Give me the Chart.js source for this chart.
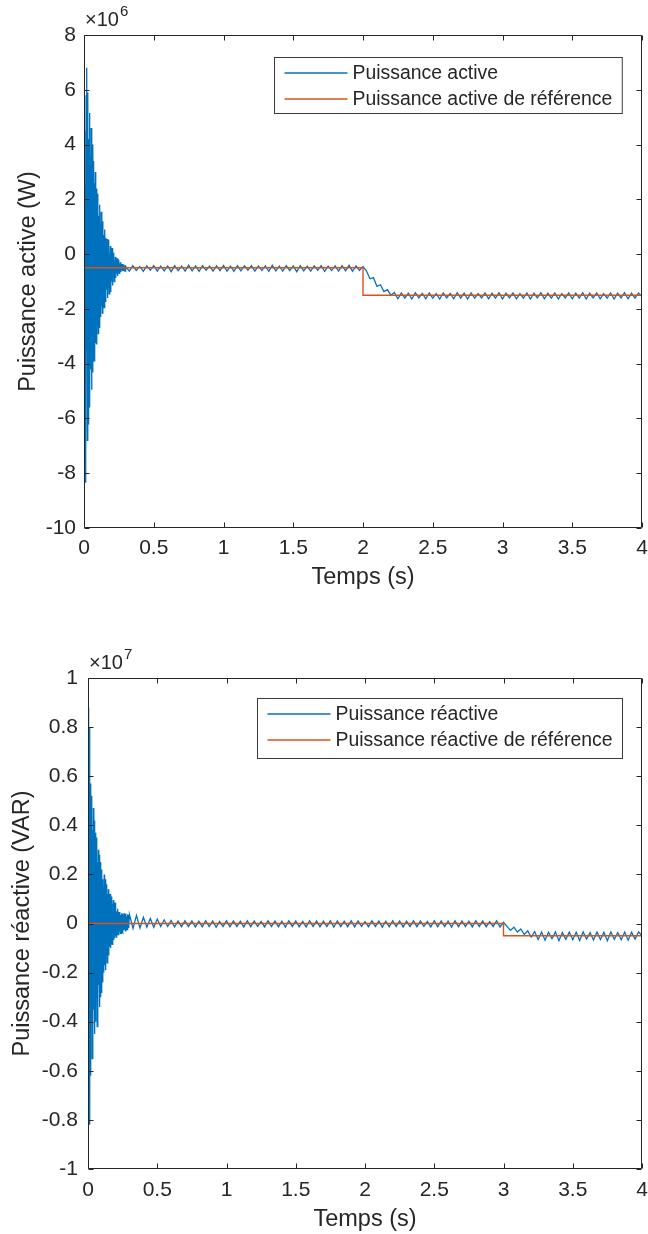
<!DOCTYPE html>
<html>
<head>
<meta charset="utf-8">
<script src="https://cdn.jsdelivr.net/npm/chart.js@4.4.1/dist/chart.umd.min.js"></script>
<style>
  html, body { margin: 0; padding: 0; background: #ffffff; }
  #wrap { position: relative; width: 648px; height: 1234px; }
  canvas { position: absolute; left: 0; }
</style>
</head>
<body>
<div id="wrap">
  <canvas id="c1" width="648" height="600" style="top:0px;width:648px;height:600px"></canvas>
  <canvas id="c2" width="648" height="634" style="top:600px;width:648px;height:634px"></canvas>
</div>
<script>
// ---------------- DATA ----------------
const xTicks = [0, 0.5, 1, 1.5, 2, 2.5, 3, 3.5, 4];
const pTicks = [-10, -8, -6, -4, -2, 0, 2, 4, 6, 8];
const qTicks = [-1, -0.8, -0.6, -0.4, -0.2, 0, 0.2, 0.4, 0.6, 0.8, 1];

// Sampling instants of the start-up transient (shared by both plots)
const transTime = [
0,0.003,0.006,0.009,0.012,0.015,0.018,0.021,0.024,0.027,
0.03,0.033,0.036,0.039,0.042,0.045,0.048,0.051,0.054,0.057,
0.06,0.063,0.066,0.069,0.072,0.075,0.078,0.081,0.084,0.087,
0.09,0.093,0.096,0.099,0.102,0.105,0.108,0.111,0.114,0.117,
0.12,0.123,0.126,0.129,0.132,0.135,0.138,0.141,0.144,0.147,
0.15,0.153,0.156,0.159,0.162,0.165,0.168,0.171,0.174,0.177,
0.18,0.183,0.186,0.189,0.192,0.195,0.198,0.201,0.204,0.207,
0.21,0.213,0.216,0.219,0.222,0.225,0.228,0.231,0.234,0.237,
0.24,0.243,0.246,0.249,0.252,0.255,0.258,0.261,0.264,0.267,
0.27,0.273,0.276,0.279,0.282,0.285,0.288,0.291,0.294,0.297];

// Active power (x10^6 W) during the transient
const pTransVal = [
0,4.5,-5.2,2.5,-8.35,5.8,-3.5,6.8,-6.8,5.9,
-6.2,4.2,-4.5,5.15,-5.6,3.6,-4.2,4.6,-4.95,3.9,
-4.3,4,-3.5,3.4,-3.9,2.6,-3,3,-3.25,2.4,
-3.3,1.9,-2.6,2.2,-2.9,1.4,-2.2,1.8,-2.7,1.1,
-2.3,1.55,-1.9,1,-2.15,1.2,-1.7,0.7,-1.95,0.9,
-1.5,0.6,-1.75,0.3,-1.3,0.55,-1.6,0.1,-1.2,0.52,
-1.45,0,-1.1,0.3,-1.38,-0.1,-1,0.22,-1.15,-0.2,
-0.85,0.05,-1,-0.25,-0.8,-0.1,-0.87,-0.3,-0.72,-0.15,
-0.8,-0.32,-0.66,-0.2,-0.7,-0.35,-0.62,-0.3,-0.65,-0.38,
-0.6,-0.36,-0.62,-0.4,-0.58,-0.38,-0.6,-0.42,-0.62,-0.41];

// Reactive power (x10^7 VAR) during the transient
const qTransVal = [
0,0.88,-0.5,0.8,-0.82,0.45,-0.62,0.57,-0.4,0.52,
-0.55,0.38,-0.49,0.47,-0.35,0.42,-0.45,0.3,-0.4,0.37,
-0.3,0.35,-0.42,0.25,-0.38,0.3,-0.25,0.28,-0.34,0.25,
-0.3,0.2,-0.28,0.22,-0.2,0.18,-0.24,0.15,-0.2,0.2,
-0.17,0.14,-0.19,0.18,-0.13,0.16,-0.16,0.12,-0.12,0.14,
-0.13,0.1,-0.095,0.12,-0.1,0.09,-0.08,0.11,-0.085,0.08,
-0.07,0.096,-0.067,0.07,-0.06,0.085,-0.05,0.06,-0.055,0.05,
-0.045,0.06,-0.04,0.047,-0.048,0.04,-0.035,0.047,-0.04,0.035,
-0.04,0.042,-0.03,0.04,-0.035,0.03,-0.028,0.042,-0.025,0.035,
-0.03,0.04,-0.022,0.03,-0.025,0.038,-0.02,0.036,-0.018,0.02];

// Sampling instants after the transient (shared by both plots)
const steadyTime = [
0.3,0.325,0.35,0.375,0.4,0.425,0.45,0.475,0.5,0.525,
0.55,0.575,0.6,0.625,0.65,0.675,0.7,0.725,0.75,0.775,
0.8,0.825,0.85,0.875,0.9,0.925,0.95,0.975,1,1.025,
1.05,1.075,1.1,1.125,1.15,1.175,1.2,1.225,1.25,1.275,
1.3,1.325,1.35,1.375,1.4,1.425,1.45,1.475,1.5,1.525,
1.55,1.575,1.6,1.625,1.65,1.675,1.7,1.725,1.75,1.775,
1.8,1.825,1.85,1.875,1.9,1.925,1.95,1.975,2,2.025,
2.05,2.075,2.1,2.125,2.15,2.175,2.2,2.225,2.25,2.275,
2.3,2.325,2.35,2.375,2.4,2.425,2.45,2.475,2.5,2.525,
2.55,2.575,2.6,2.625,2.65,2.675,2.7,2.725,2.75,2.775,
2.8,2.825,2.85,2.875,2.9,2.925,2.95,2.975,3,3.025,
3.05,3.075,3.1,3.125,3.15,3.175,3.2,3.225,3.25,3.275,
3.3,3.325,3.35,3.375,3.4,3.425,3.45,3.475,3.5,3.525,
3.55,3.575,3.6,3.625,3.65,3.675,3.7,3.725,3.75,3.775,
3.8,3.825,3.85,3.875,3.9,3.925,3.95,3.975,4];

const pSteadyVal = [
-0.45,-0.62,-0.42,-0.6,-0.45,-0.63,-0.43,-0.59,-0.42,-0.62,
-0.44,-0.61,-0.43,-0.64,-0.42,-0.6,-0.44,-0.62,-0.41,-0.61,
-0.43,-0.63,-0.42,-0.59,-0.44,-0.62,-0.43,-0.6,-0.41,-0.62,
-0.44,-0.63,-0.42,-0.61,-0.43,-0.59,-0.42,-0.62,-0.44,-0.6,
-0.43,-0.63,-0.41,-0.61,-0.44,-0.62,-0.42,-0.6,-0.43,-0.64,
-0.42,-0.61,-0.44,-0.62,-0.43,-0.59,-0.42,-0.63,-0.44,-0.6,
-0.43,-0.62,-0.42,-0.61,-0.41,-0.63,-0.43,-0.6,-0.45,
-0.62,-0.9,-0.86,-1.18,-1.12,-1.37,-1.3,-1.5,-1.4,
-1.63,-1.42,-1.61,-1.43,-1.64,-1.41,-1.6,-1.43,-1.63,-1.42,
-1.61,-1.44,-1.64,-1.42,-1.6,-1.43,-1.63,-1.41,-1.61,-1.43,
-1.64,-1.42,-1.61,-1.44,-1.6,-1.42,-1.63,-1.43,-1.61,-1.41,
-1.64,-1.43,-1.6,-1.42,-1.63,-1.44,-1.61,-1.42,-1.64,-1.43,
-1.6,-1.41,-1.63,-1.43,-1.61,-1.42,-1.64,-1.44,-1.6,-1.42,
-1.63,-1.43,-1.61,-1.41,-1.64,-1.43,-1.6,-1.42,-1.63,-1.44,
-1.61,-1.42,-1.64,-1.43,-1.6,-1.41,-1.63,-1.43,-1.61,-1.42,
-1.55];

const qSteadyVal = [
0.035,-0.02,0.033,-0.018,0.025,-0.015,0.02,-0.015,0.018,-0.012,
0.015,-0.012,0.012,-0.014,0.01,-0.013,0.011,-0.012,0.01,-0.014,
0.009,-0.013,0.011,-0.012,0.01,-0.015,0.008,-0.012,0.011,-0.013,
0.01,-0.012,0.009,-0.014,0.011,-0.013,0.01,-0.012,0.008,-0.014,
0.011,-0.012,0.01,-0.013,0.009,-0.015,0.011,-0.012,0.01,-0.013,
0.008,-0.014,0.011,-0.012,0.01,-0.013,0.009,-0.012,0.011,-0.015,
0.01,-0.012,0.009,-0.013,0.011,-0.014,0.01,-0.012,0.008,-0.013,
0.011,-0.012,0.01,-0.015,0.009,-0.013,0.011,-0.012,0.01,-0.014,
0.009,-0.012,0.011,-0.013,0.01,-0.012,0.008,-0.014,0.011,-0.013,
0.01,-0.012,0.009,-0.015,0.011,-0.013,0.01,-0.012,0.009,-0.014,
0.011,-0.012,0.01,-0.013,0.008,-0.012,0.011,-0.014,0.005,
-0.012,-0.028,-0.015,-0.035,-0.022,-0.045,-0.03,-0.055,-0.033,
-0.065,-0.035,-0.068,-0.036,-0.062,-0.034,-0.07,-0.037,-0.064,-0.035,
-0.066,-0.036,-0.069,-0.034,-0.063,-0.037,-0.067,-0.035,-0.065,-0.036,
-0.07,-0.034,-0.064,-0.037,-0.066,-0.035,-0.068,-0.036,-0.063,-0.034,-0.05];

// Reference set-points
const pRefTime = [0, 2, 2, 4];
const pRefVal = [-0.5, -0.5, -1.5, -1.5];
const qRefTime = [0, 3, 3, 4];
const qRefVal = [0, 0, -0.05, -0.05];

// ---------------- RENDERING ----------------
const FONT = '"Liberation Sans", Arial, Helvetica, sans-serif';
const TXT = '#262626';
const BLUE = '#0072BD';
const ORANGE = '#D95319';

function pts(t, v) { return t.map((x, i) => ({ x: x, y: v[i] })); }

const framePlugin = {
  id: 'matlabFrame',
  afterDatasetsDraw(chart, args, opts) {
    const { ctx, chartArea: a, scales: { x, y } } = chart;
    const L = Math.round(a.left) + 0.5, R = Math.round(a.right) - 0.5;
    const T = Math.round(a.top) + 0.5, B = Math.round(a.bottom) - 0.5;
    ctx.save();
    ctx.strokeStyle = TXT;
    ctx.lineWidth = 1;
    ctx.beginPath();
    ctx.rect(L, T, R - L, B - T);
    const tl = 5;
    x.ticks.forEach(t => {
      const px = Math.round(x.getPixelForValue(t.value)) + 0.5;
      ctx.moveTo(px, B); ctx.lineTo(px, B - tl);
      ctx.moveTo(px, T); ctx.lineTo(px, T + tl);
    });
    y.ticks.forEach(t => {
      const py = Math.round(y.getPixelForValue(t.value)) + 0.5;
      ctx.moveTo(L, py); ctx.lineTo(L + tl, py);
      ctx.moveTo(R, py); ctx.lineTo(R - tl, py);
    });
    ctx.stroke();

    // exponent label
    ctx.fillStyle = TXT;
    ctx.textBaseline = 'alphabetic';
    ctx.textAlign = 'left';
    ctx.font = '20px ' + FONT;
    const ex = a.left + 1, ey = a.top - 9;
    ctx.fillText('\u00D710', ex, ey);
    const w = ctx.measureText('\u00D710').width;
    ctx.font = '15px ' + FONT;
    ctx.fillText(opts.exp, ex + w + 1, ey - 10);

    // legend box
    ctx.font = '19.4px ' + FONT;
    const ds = chart.data.datasets;
    let tw = 0;
    ds.forEach(d => { tw = Math.max(tw, ctx.measureText(d.label).width); });
    const lineLen = 63, padL = 10, gap = 5, padR = 10;
    const bw = padL + lineLen + gap + tw + padR;
    const bh = opts.boxH;
    const bx = Math.round(a.right - opts.right - bw) + 0.5;
    const by = Math.round(a.top + opts.top) + 0.5;
    ctx.fillStyle = '#ffffff';
    ctx.fillRect(bx, by, bw, bh);
    ctx.strokeStyle = '#3a3a3a';
    ctx.lineWidth = 1;
    ctx.strokeRect(bx, by, bw, bh);
    ds.forEach((d, i) => {
      const ry = Math.round(by + opts.row0 + i * opts.rowGap);
      ctx.strokeStyle = d.borderColor;
      ctx.lineWidth = 1.5;
      ctx.beginPath();
      ctx.moveTo(bx + padL, ry);
      ctx.lineTo(bx + padL + lineLen, ry);
      ctx.stroke();
      ctx.fillStyle = TXT;
      ctx.textBaseline = 'middle';
      ctx.fillText(d.label, bx + padL + lineLen + gap, ry + 1);
    });
    ctx.restore();
  }
};

function makeChart(id, cfg) {
  return new Chart(document.getElementById(id), {
    type: 'line',
    data: {
      datasets: [
        { label: cfg.labels[0], data: cfg.series, borderColor: BLUE, borderWidth: 1.3, pointRadius: 0, tension: 0, order: 1 },
        { label: cfg.labels[1], data: cfg.ref, borderColor: ORANGE, borderWidth: 1.4, pointRadius: 0, tension: 0, order: 0 }
      ]
    },
    options: {
      responsive: false,
      animation: false,
      events: [],
      layout: { padding: { top: cfg.padTop, right: 6, left: 0, bottom: 0 } },
      plugins: {
        legend: { display: false },
        tooltip: { enabled: false },
        matlabFrame: cfg.frame
      },
      scales: {
        x: {
          type: 'linear', min: 0, max: 4,
          afterBuildTicks: s => { s.ticks = xTicks.map(v => ({ value: v })); },
          afterFit: s => { s.height = cfg.xAxisH; s.paddingLeft = 0; s.paddingRight = 0; },
          grid: { display: false, drawTicks: false },
          border: { display: false },
          ticks: { color: TXT, font: { family: FONT, size: 21 }, padding: cfg.xTickPad, maxRotation: 0, autoSkip: false,
                   callback: v => String(v) },
          title: { display: true, text: 'Temps (s)', color: TXT, font: { family: FONT, size: 23.5 },
                   padding: { top: 0, bottom: cfg.xTitlePad } }
        },
        y: {
          type: 'linear', min: cfg.yMin, max: cfg.yMax,
          afterBuildTicks: s => { s.ticks = cfg.yTicks.map(v => ({ value: v })); },
          afterFit: s => { s.width = cfg.yAxisW; },
          grid: { display: false, drawTicks: false },
          border: { display: false },
          ticks: { color: TXT, font: { family: FONT, size: 21 }, padding: cfg.yTickPad, autoSkip: false,
                   callback: v => String(+v.toFixed(1)) },
          title: { display: true, text: cfg.yTitle, color: TXT, font: { family: FONT, size: 23.5 },
                   padding: { top: cfg.yTitlePad, bottom: 0 } }
        }
      }
    },
    plugins: [framePlugin]
  });
}

makeChart('c1', {
  labels: ['Puissance active', 'Puissance active de r\u00E9f\u00E9rence'],
  series: pts(transTime.concat(steadyTime), pTransVal.concat(pSteadyVal)),
  ref: pts(pRefTime, pRefVal),
  yTicks: pTicks, yMin: -10, yMax: 8,
  yTitle: 'Puissance active (W)',
  padTop: 35, xAxisH: 72, yAxisW: 84, xTitlePad: 8, yTitlePad: 14, xTickPad: 8, yTickPad: 8,
  frame: { exp: '6', right: 20, top: 22, boxH: 56, row0: 15, rowGap: 26 }
});

makeChart('c2', {
  labels: ['Puissance r\u00E9active', 'Puissance r\u00E9active de r\u00E9f\u00E9rence'],
  series: pts(transTime.concat(steadyTime), qTransVal.concat(qSteadyVal)),
  ref: pts(qRefTime, qRefVal),
  yTicks: qTicks, yMin: -1, yMax: 1,
  yTitle: 'Puissance r\u00E9active (VAR)',
  padTop: 78, xAxisH: 65, yAxisW: 88, xTitlePad: 0, yTitlePad: 8, xTickPad: 9, yTickPad: 10,
  frame: { exp: '7', right: 20, top: 20, boxH: 60, row0: 15, rowGap: 26 }
});
</script>
</body>
</html>
